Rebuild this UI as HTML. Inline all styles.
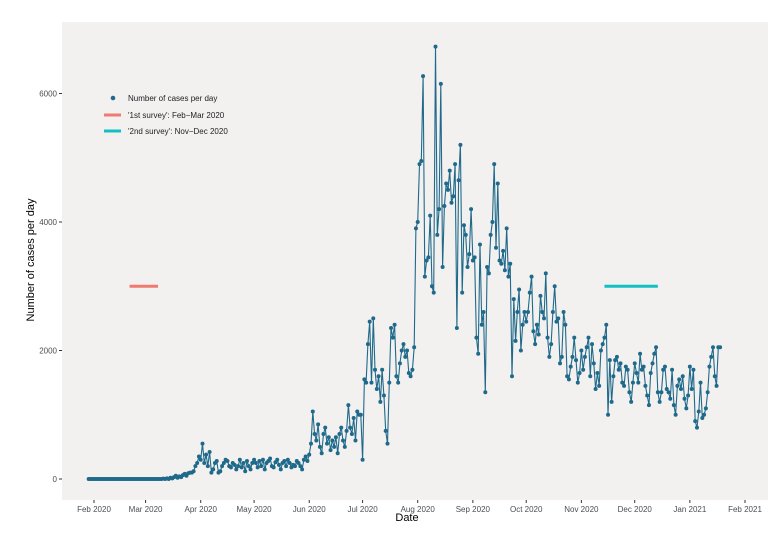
<!DOCTYPE html>
<html><head><meta charset="utf-8"><style>
body{margin:0;background:#fff;font-family:"Liberation Sans",sans-serif}
svg text{font-family:"Liberation Sans",sans-serif}
</style></head><body>
<svg id="chart" width="778" height="551">
<rect x="62" y="22" width="706" height="478" fill="#F3F0F0"/>
<g id="axes"></g>
<g id="marks"></g>
<g>
<circle cx="113" cy="98" r="2.3" fill="#1F6A8A"/>
<text x="128" y="101" font-size="8" fill="#222">Number of cases per day</text>
<line x1="104" y1="115" x2="121" y2="115" stroke="#F07A6E" stroke-width="3"/>
<text x="128" y="118" font-size="8" fill="#222">'1st survey': Feb−Mar 2020</text>
<line x1="104" y1="131" x2="121" y2="131" stroke="#14BFC4" stroke-width="3"/>
<text x="128" y="134" font-size="8" fill="#222">'2nd survey': Nov−Dec 2020</text>
</g>
<text x="407" y="521" font-size="11" text-anchor="middle" fill="#000">Date</text>
<text transform="translate(34,260) rotate(-90)" font-size="11" text-anchor="middle" fill="#000">Number of cases per day</text>
</svg>
<script>
const startDate = [2020,0,29];
const cases = [0,0,0,
0,0,0,0,0,0,0,0,0,0,0,0,0,0,0,0,0,0,0,0,0,0,0,0,0,0,0,0,0,
0,0,0,0,0,0,0,0,0,0,5,0,10,0,20,10,30,50,20,40,30,60,80,50,90,100,100,120,200,250,350,
300,550,250,380,200,420,100,150,250,280,100,120,200,250,300,280,200,180,250,220,150,200,300,180,250,120,280,200,150,250,
300,250,180,280,200,300,150,250,280,320,200,180,260,300,220,150,250,280,200,300,250,180,220,200,280,250,200,150,300,350,280,
380,550,1050,700,600,850,500,400,700,800,550,650,450,600,500,650,400,700,800,600,500,750,1150,800,700,950,600,1050,1000,1000,
300,1550,1500,2100,2450,1500,2500,1700,1400,1600,1200,1700,1300,750,550,1500,2350,2200,2400,1600,1500,1800,2000,2100,1900,2000,1650,1600,1700,2050,3900,
4000,4900,4950,6270,3150,3400,3450,4100,3000,2900,6730,3800,4200,6150,3300,4250,4600,4500,4800,4300,4400,4900,2350,4650,5200,2900,3950,3800,3300,3500,4200,
3400,3450,2200,1950,3650,2400,2600,1350,3300,3200,3800,4000,4900,3600,4600,3400,3350,3550,3250,3900,3150,3350,1600,2800,2150,2600,2950,2000,2400,2600,
2450,2600,2900,3150,2300,2100,2400,2250,2850,2600,2500,3200,2200,1900,2100,2600,3000,2450,2500,1800,1900,2600,2400,1600,1550,1750,1900,2200,1850,1500,1650,
2000,1700,1900,2050,2200,1600,2100,1800,1400,1650,1450,2000,2100,2200,2400,1000,1850,1200,1600,1850,1900,1700,1800,1500,1450,1750,1700,1350,1200,1500,
1800,1650,1500,1950,1700,1750,1450,1300,1150,1650,1800,1950,2050,1350,1200,1350,1700,1750,1400,1350,1250,1700,1150,1000,1450,1550,1400,1600,1250,1100,1300,
1750,1400,1700,900,800,1050,1500,950,1000,1100,1350,1750,1900,2050,1600,1450,2050,2050];
const xTickLabels = ["Feb 2020","Mar 2020","Apr 2020","May 2020","Jun 2020","Jul 2020","Aug 2020","Sep 2020","Oct 2020","Nov 2020","Dec 2020","Jan 2021","Feb 2021"];
const yTicks = [0,2000,4000,6000];
const surveys = [{name:"survey-1st",start:[2020,1,21],end:[2020,2,8],value:3000,color:"#F07A6E"},
                 {name:"survey-2nd",start:[2020,10,14],end:[2020,11,14],value:3000,color:"#14BFC4"}];
const NS="http://www.w3.org/2000/svg";
const t0 = Date.UTC(2020,1,1);
function xs(d){return 94 + (d - t0)/86400000*1.7787;}
function ys(v){return 479 - v/2000*128.5;}
function mk(tag,attrs,parent){const e=document.createElementNS(NS,tag);for(const k in attrs)e.setAttribute(k,attrs[k]);parent.appendChild(e);return e;}
const axes=document.getElementById('axes'), marks=document.getElementById('marks');
xTickLabels.forEach((l,i)=>{
  const x=xs(Date.UTC(2020,1+i,1));
  const tk=mk('line',{x1:x,y1:500,x2:x,y2:503,stroke:'#333'},axes);
  
  
  const t=mk('text',{x:x,y:512,'font-size':8,'text-anchor':'middle',fill:'#4D4D4D'},axes);
  t.textContent=l;
  
  
});
yTicks.forEach(v=>{
  const y=ys(v);
  const tk=mk('line',{x1:59,y1:y,x2:62,y2:y,stroke:'#333'},axes);
  
  
  const t=mk('text',{x:57,y:y+3,'font-size':8,'text-anchor':'end',fill:'#4D4D4D'},axes);
  t.textContent=v;
  
  
});
const s0=Date.UTC(startDate[0],startDate[1],startDate[2]);
const pts=cases.map((v,i)=>[xs(s0+i*86400000),ys(v)]);
const line=mk('polyline',{points:pts.map(p=>p[0].toFixed(1)+','+p[1].toFixed(1)).join(' '),fill:'none',stroke:'#1F6A8A','stroke-width':1.1},marks);


pts.forEach(p=>{
  const c=mk('circle',{cx:p[0],cy:p[1],r:2,fill:'#1F6A8A'},marks);
  
  
});
surveys.forEach(s=>{
  const l=mk('line',{x1:xs(Date.UTC(...s.start)),x2:xs(Date.UTC(...s.end)),y1:ys(s.value),y2:ys(s.value),stroke:s.color,'stroke-width':3},marks);
  
  
});
</script>
</body></html>
